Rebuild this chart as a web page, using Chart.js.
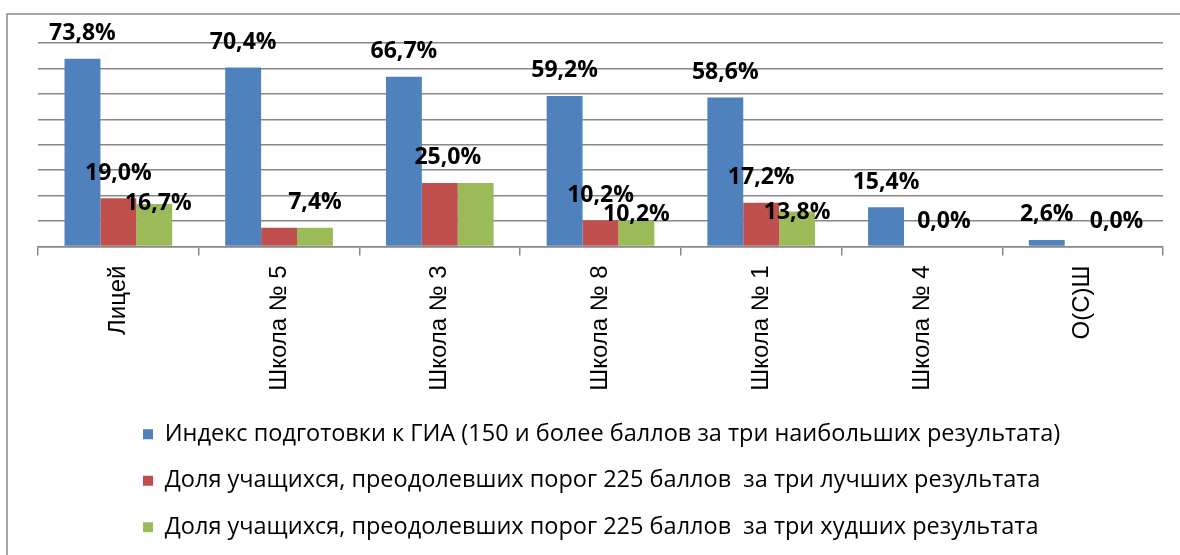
<!DOCTYPE html>
<html lang="ru">
<head>
<meta charset="utf-8">
<title>Индекс подготовки к ГИА</title>
<script src="https://cdn.jsdelivr.net/npm/chart.js@4.4.1/dist/chart.umd.min.js"></script>
<style>
  html, body { margin: 0; padding: 0; background: #fff; }
  #wrap { width: 1180px; height: 555px; }
</style>
</head>
<body>
<div id="wrap"><canvas id="giaChart" width="1180" height="555"></canvas></div>
<script>
const schools = ['Лицей', 'Школа № 5', 'Школа № 3', 'Школа № 8', 'Школа № 1', 'Школа № 4', 'О(С)Ш'];
const indexGia = [73.8, 70.4, 66.7, 59.2, 58.6, 15.4, 2.6];
const bestThree = [19.0, 7.4, 25.0, 10.2, 17.2, 0.0, 0.0];
const worstThree = [16.7, 7.4, 25.0, 10.2, 13.8, 0.0, 0.0];
const seriesNames = [
  'Индекс подготовки к ГИА (150 и более баллов за три наибольших результата)',
  'Доля учащихся, преодолевших порог 225 баллов  за три лучших результата',
  'Доля учащихся, преодолевших порог 225 баллов  за три худших результата'
];
const yMax = 80;
const yStep = 10;

const seriesColors = ['#4F81BD', '#C0504D', '#9BBB59'];

// labels in the original were moved by hand, some are hidden
const labelTweaks = {
  '1-1': { hide: true },
  '1-2': { dx: 8 },
  '1-5': { dx: 22 },
  '1-6': { hide: true },
  '2-0': { dx: 4, dy: 24 },
  '2-2': { hide: true },
  '2-3': { dy: 19 },
  '2-4': { dy: 26 },
  '2-5': { hide: true },
  '2-6': { dx: -2 }
};

const barLabels = {
  id: 'barLabels',
  afterDatasetsDraw(chart) {
    const ctx = chart.ctx;
    ctx.save();
    ctx.font = 'bold 23px "Open Sans"';
    ctx.fillStyle = '#000';
    ctx.textAlign = 'center';
    ctx.textBaseline = 'middle';
    chart.data.datasets.forEach((ds, di) => {
      chart.getDatasetMeta(di).data.forEach((bar, i) => {
        const t = labelTweaks[di + '-' + i] || {};
        if (t.hide) return;
        const text = ds.data[i].toFixed(1).replace('.', ',') + '%';
        ctx.fillText(text, bar.x + (t.dx || 0), bar.y - 25 + (t.dy || 0));
      });
    });
    ctx.restore();
  }
};

const frame = {
  id: 'frame',
  beforeDraw(chart) {
    const ctx = chart.ctx;
    ctx.save();
    ctx.fillStyle = '#fff';
    ctx.fillRect(0, 0, chart.width, chart.height);
    ctx.strokeStyle = '#8a8a8a';
    ctx.lineWidth = 1.5;
    ctx.beginPath();
    ctx.moveTo(7, chart.height);
    ctx.lineTo(7, 14);
    ctx.lineTo(chart.width, 14);
    ctx.stroke();
    ctx.restore();
  }
};

const legendShift = {
  id: 'legendShift',
  afterLayout(chart) {
    chart.legend.left = 120;
  }
};

const datasets = [indexGia, bestThree, worstThree].map((values, i) => ({
  label: seriesNames[i],
  data: values,
  backgroundColor: seriesColors[i],
  borderWidth: 0
}));

new Chart(document.getElementById('giaChart'), {
  type: 'bar',
  data: { labels: schools, datasets: datasets },
  options: {
    responsive: false,
    animation: false,
    categoryPercentage: 0.67,
    barPercentage: 1,
    layout: { padding: { left: 38, right: 17, top: 43, bottom: 6 } },
    scales: {
      x: {
        grid: { drawOnChartArea: false, drawTicks: true, tickLength: 9, color: '#888', lineWidth: 1.5, offset: true },
        border: { display: true, color: '#888', width: 1.5 },
        ticks: {
          minRotation: 90,
          maxRotation: 90,
          padding: 10,
          color: '#000',
          font: { family: 'Liberation Sans', size: 24 }
        },
        afterFit(scale) { scale.height = 153; }
      },
      y: {
        min: 0,
        max: yMax,
        ticks: { display: false, stepSize: yStep },
        grid: { color: '#888', lineWidth: 1.5, drawTicks: false },
        border: { display: false },
        afterFit(scale) { scale.width = 0; }
      }
    },
    plugins: {
      tooltip: { enabled: false },
      legend: {
        position: 'bottom',
        align: 'start',
        labels: {
          boxWidth: 10,
          boxHeight: 10,
          padding: 23,
          color: '#000',
          font: { family: 'Open Sans', size: 23.5 }
        }
      }
    }
  },
  plugins: [frame, barLabels, legendShift]
});
</script>
</body>
</html>
